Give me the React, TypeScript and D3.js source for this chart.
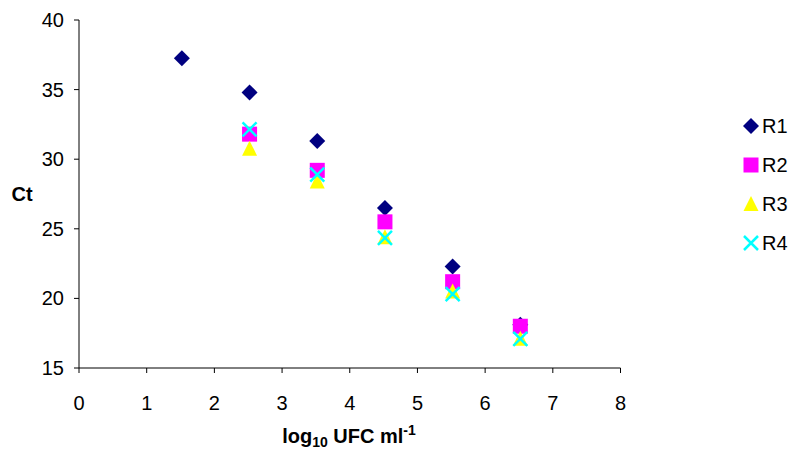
import * as d3 from "d3";
import React from "react";

const xValues = [1.52, 2.52, 3.52, 4.52, 5.52, 6.52];
const r1 = [37.25, 34.8, 31.3, 26.5, 22.3, 18.1];
const r2 = [null, 31.8, 29.2, 25.5, 21.2, 18.0];
const r3 = [null, 30.75, 28.4, 24.4, 20.5, 17.1];
const r4 = [null, 32.15, 28.9, 24.35, 20.3, 17.1];
const seriesNames = ["R1", "R2", "R3", "R4"];
const seriesColors = ["#000080", "#ff00ff", "#ffff00", "#00ffff"];
const xTicks = [0, 1, 2, 3, 4, 5, 6, 7, 8];
const yTicks = [15, 20, 25, 30, 35, 40];

const font = "'Liberation Sans', Arial, sans-serif";

const Marker = ({ kind, color, x, y }) => {
  if (kind === 0) {
    const s = 8;
    return <path d={`M${x},${y - s}L${x + s},${y}L${x},${y + s}L${x - s},${y}Z`} fill={color} />;
  }
  if (kind === 1) {
    return <rect x={x - 7.5} y={y - 7.5} width={15} height={15} fill={color} />;
  }
  if (kind === 2) {
    return <path d={`M${x},${y - 8}L${x + 7.5},${y + 7}L${x - 7.5},${y + 7}Z`} fill={color} />;
  }
  const s = 7;
  return (
    <path
      d={`M${x - s},${y - s}L${x + s},${y + s}M${x - s},${y + s}L${x + s},${y - s}`}
      stroke={color}
      strokeWidth={2.5}
      fill="none"
    />
  );
};

const App = () => {
  const width = 792;
  const height = 450;
  const plot = { left: 79, right: 620.5, top: 20, bottom: 368 };

  const xScale = d3.scaleLinear().domain([0, 8]).range([plot.left, plot.right]);
  const yScale = d3.scaleLinear().domain([15, 40]).range([plot.bottom, plot.top]);

  const series = [r1, r2, r3, r4];
  const legendY = [126, 165, 204, 243];

  return (
    <svg
      width={width}
      height={height}
      style={{ position: "absolute", left: 0, top: 0, background: "#fff" }}
      fontFamily={font}
    >
      {/* axes */}
      <line x1={plot.left} x2={plot.left} y1={plot.top} y2={plot.bottom} stroke="#000" />
      <line x1={plot.left} x2={plot.right} y1={plot.bottom} y2={plot.bottom} stroke="#000" />
      {yTicks.map((t) => (
        <g key={"y" + t}>
          <line x1={plot.left - 5} x2={plot.left} y1={yScale(t)} y2={yScale(t)} stroke="#000" />
          <text x={64} y={yScale(t)} dy="0.35em" textAnchor="end" fontSize={20}>
            {t}
          </text>
        </g>
      ))}
      {xTicks.map((t) => (
        <g key={"x" + t}>
          <line x1={xScale(t)} x2={xScale(t)} y1={plot.bottom} y2={plot.bottom + 5} stroke="#000" />
          <text x={xScale(t)} y={403} dy="0.35em" textAnchor="middle" fontSize={20}>
            {t}
          </text>
        </g>
      ))}

      {/* axis titles, centred on their axes */}
      <text x={22} y={(plot.top + plot.bottom) / 2} dy="0.35em" textAnchor="middle" fontSize={20} fontWeight="bold">
        Ct
      </text>
      <text x={349} y={436} dy="0.35em" textAnchor="middle" fontSize={20} fontWeight="bold">
        log
        <tspan fontSize={14} dy="4">10</tspan>
        <tspan dy="-4"> UFC ml</tspan>
        <tspan fontSize={14} dy="-8">-1</tspan>
      </text>

      {/* points */}
      {series.map((vals, si) => (
        <g key={seriesNames[si]}>
          {vals.map((v, i) =>
            v == null ? null : (
              <Marker key={i} kind={si} color={seriesColors[si]} x={xScale(xValues[i])} y={yScale(v)} />
            )
          )}
        </g>
      ))}

      {/* legend */}
      {seriesNames.map((name, si) => (
        <g key={"leg" + name}>
          <Marker kind={si} color={seriesColors[si]} x={751} y={legendY[si]} />
          <text x={762} y={legendY[si]} dy="0.35em" fontSize={20}>
            {name}
          </text>
        </g>
      ))}
    </svg>
  );
};

export default App;
